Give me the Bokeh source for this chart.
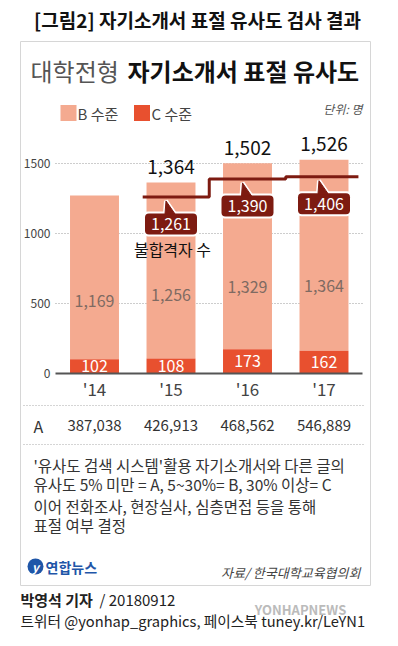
from bokeh.plotting import figure
from bokeh.models import Range1d
from bokeh.core.properties import value
from bokeh.embed import file_html
from bokeh.resources import INLINE

# ---- data ----
years = ["'14", "'15", "'16", "'17"]
b_level = [1169, 1256, 1329, 1364]
c_level = [102, 108, 173, 162]
rejected = [None, 1261, 1390, 1406]
a_level = [387038, 426913, 468562, 546889]
y_ticks = [0, 500, 1000, 1500]

title_top = "[그림2] 자기소개서 표절 유사도 검사 결과"
title_light = "대학전형"
title_bold = "자기소개서 표절 유사도"
legend_labels = ["B 수준", "C 수준"]
unit_label = "단위: 명"
line_label = "불합격자 수"
notes = [
    "'유사도 검색 시스템'활용 자기소개서와 다른 글의",
    "유사도 5% 미만 = A, 5~30%= B, 30% 이상= C",
    "이어 전화조사, 현장실사, 심층면접 등을 통해",
    "표절 여부 결정",
]
source = "자료/ 한국대학교육협의회"
byline_name = "박영석 기자"
byline_date = " / 20180912"
social = "트위터 @yonhap_graphics, 페이스북 tuney.kr/LeYN1"

# ---- style ----
F = "Noto Sans CJK KR"
COL_B = "#f4aa90"
COL_C = "#e8502f"
COL_LINE = "#7d1b11"

W, H = 398, 646
PXC = 76.5   # px per category
PXV = 0.14   # px per value unit


def gx(px):
    return (px - 94) / PXC


def gy(py):
    return (373 - py) / PXV


def dx(px):
    return px / PXC


def dv(px):
    return px / PXV


p = figure(width=W, height=H, output_backend="svg", toolbar_location=None,
           x_range=Range1d(gx(0), gx(W)), y_range=Range1d(gy(H), gy(0)),
           min_border=0)
p.axis.visible = False
p.grid.visible = False
p.outline_line_color = None
p.background_fill_color = "white"
p.border_fill_color = "white"


def txt(x, y, s, size, color="#333", align="left", style="normal", font=F):
    p.text(x=[x], y=[y], text=[s], text_font=value(font), text_font_size=f"{size}px",
           text_color=color, text_align=align, text_baseline="middle",
           text_font_style=style)


# card
p.quad(left=[gx(20)], right=[gx(370)], top=[gy(41)], bottom=[gy(585)],
       fill_color=None, line_color="#d6d6d6", line_width=1)

# titles
txt(gx(197), gy(19), title_top, 19, "#111", "center", "bold")
txt(gx(30), gy(70), title_light, 24, "#555")
txt(gx(127), gy(70), title_bold, 24, "#111", style="bold")

# legend
p.rect(x=[gx(68), gx(141.5)], y=[gy(112.5), gy(112.5)], width=16, height=16,
       width_units="screen", height_units="screen",
       fill_color=[COL_B, COL_C], line_color=None)
txt(gx(77), gy(113), legend_labels[0], 15, "#444")
txt(gx(151), gy(113), legend_labels[1], 15, "#444")
txt(gx(362), gy(108), unit_label, 12, "#555", "right", "italic")

# grid + ticks
grid_vals = [t for t in y_ticks if t > 0]
p.segment(x0=gx(55), x1=gx(362), y0=grid_vals, y1=grid_vals,
          line_color="#9a9a9a", line_dash="1 2", line_width=1)
p.text(x=[gx(50)] * len(y_ticks), y=y_ticks, text=[str(t) for t in y_ticks],
       text_font=value(F), text_font_size="12px", text_color="#444",
       text_align="right", text_baseline="middle")

# bars
idx = list(range(len(years)))
totals = [b + c for b, c in zip(b_level, c_level)]
p.vbar(x=idx, width=0.64, bottom=c_level, top=totals, fill_color=COL_B, line_color=None)
p.vbar(x=idx, width=0.64, bottom=0, top=c_level, fill_color=COL_C, line_color=None)
p.segment(x0=[gx(55)], x1=[gx(362)], y0=[0], y1=[0], line_color="#555", line_width=2)

# labels in bars
p.text(x=idx, y=[0.41 * t for t in totals], text=[f"{v:,}" for v in b_level],
       text_font=value(F), text_font_size="16px", text_color="#7f6a62",
       text_align="center", text_baseline="middle")
p.text(x=idx, y=[c / 2 for c in c_level], text=[f"{v:,}" for v in c_level],
       text_font=value(F), text_font_size="16px", text_color="white",
       text_align="center", text_baseline="middle")

# totals on top (years with rejected data)
ti = [i for i in idx if rejected[i] is not None]
p.text(x=ti, y=[totals[i] + dv(15.5) for i in ti], text=[f"{totals[i]:,}" for i in ti],
       text_font=value(F), text_font_size="19px", text_color="#111",
       text_align="center", text_baseline="middle")

# step line
pts = [(i, v) for i, v in enumerate(rejected) if v is not None]
lx, ly = [], []
for k, (i, v) in enumerate(pts):
    start = i - 0.37 if k == 0 else i - 0.5
    end = i + 0.5 if k < len(pts) - 1 else i + 0.45
    lx += [start, end]
    ly += [v, v]
p.line(lx, ly, line_color=COL_LINE, line_width=3)

# callouts
bx = [i for i, v in pts]
bv = [v for i, v in pts]
cy = [v - dv(27) for v in bv]
hw, hh = dx(26), dv(10.5)
tails_x = [[i - dx(6), i - dx(5), i + dx(4)] for i in bx]
tails_y = [[v - dv(17), v - dv(4), v - dv(17)] for v in bv]
# white halo
p.quad(left=[i - hw - dx(2) for i in bx], right=[i + hw + dx(2) for i in bx],
       top=[c + hh + dv(2) for c in cy], bottom=[c - hh - dv(2) for c in cy],
       fill_color="white", line_color=None, border_radius=5)
p.patches(tails_x, tails_y, fill_color="white", line_color="white", line_width=4)
p.quad(left=[i - hw for i in bx], right=[i + hw for i in bx],
       top=[c + hh for c in cy], bottom=[c - hh for c in cy],
       fill_color=COL_LINE, line_color=None, border_radius=4)
p.patches(tails_x, tails_y, fill_color=COL_LINE, line_color=COL_LINE, line_width=1)
p.text(x=bx, y=cy, text=[f"{v:,}" for v in bv], text_font=value(F),
       text_font_size="16px", text_color="white", text_align="center",
       text_baseline="middle")
txt(gx(172), gy(248), line_label, 16, "#111", "center")

# category labels
p.text(x=idx, y=[gy(388)] * len(idx), text=years, text_font=value(F),
       text_font_size="17px", text_color="#444", text_align="center",
       text_baseline="middle")

# A row
p.segment(x0=[gx(23)] * 2, x1=[gx(365)] * 2, y0=[gy(405), gy(444)], y1=[gy(405), gy(444)],
          line_color="#aaaaaa", line_dash="1 2", line_width=1)
txt(gx(33), gy(425), "A", 16, "#333")
p.text(x=idx, y=[gy(425)] * len(idx), text=[f"{v:,}" for v in a_level],
       text_font=value(F), text_font_size="15px", text_color="#333",
       text_align="center", text_baseline="middle")

# notes
for s, yy in zip(notes, [464, 483, 505, 524]):
    txt(gx(33), gy(yy), s, 15.5, "#333")

# logo + source
p.scatter(x=[gx(35)], y=[gy(566)], size=16, marker="circle", fill_color="#1f56a8",
          line_color=None)
txt(gx(35), gy(566), "y", 12, "white", "center", "bold italic")
txt(gx(45), gy(566), "연합뉴스", 14, "#1f56a8", style="bold")
txt(gx(360), gy(572), source, 13, "#444", "right", "italic")

# byline
txt(gx(20), gy(599), byline_name, 15, "#222", style="bold")
txt(gx(99), gy(599), byline_date, 15, "#222")
txt(gx(20), gy(620), social, 14.7, "#222")
txt(gx(300), gy(609), "YONHAPNEWS", 13, "#bbbbbb", "center", "bold")

open("out.html", "w").write(file_html(p, INLINE))
